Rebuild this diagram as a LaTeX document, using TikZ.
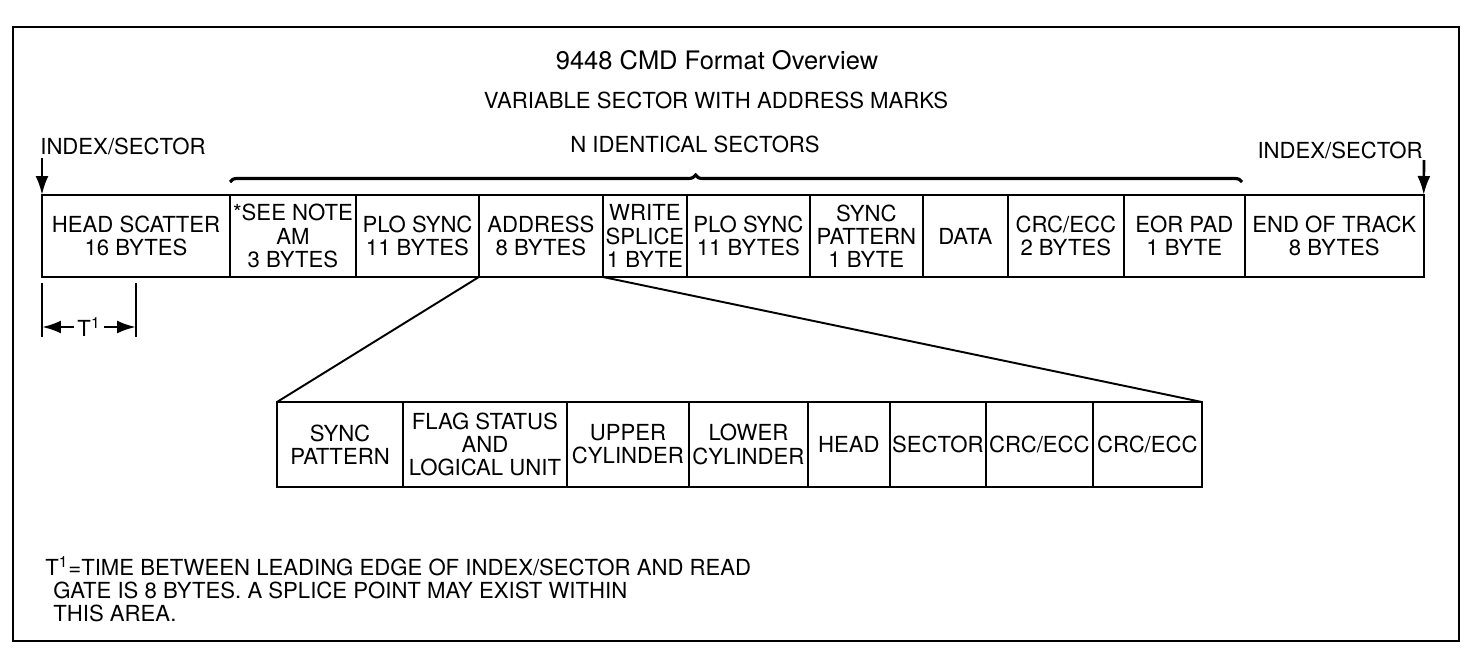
\documentclass[tikz,border=0pt]{standalone}
\usepackage{fontspec}
\setmainfont{TeX Gyre Heros}
\usetikzlibrary{positioning, arrows.meta, decorations.pathreplacing}

\tikzset{
  txt/.style={inner sep=0pt, font=\fontsize{12.6}{13.2}\selectfont},
  cell/.style={draw, line width=1.1pt, inner sep=0pt, outer sep=0pt, align=center,
    minimum height=1.64cm, font=\fontsize{12.6}{13.2}\selectfont},
  subcell/.style={cell, minimum height=1.70cm},
  fatarrow/.style={line width=1.5pt, -{Latex[length=0.38cm, width=0.26cm]}},
}

\begin{document}
\begin{tikzpicture}[x=0.02cm, y=-0.02cm]
        \useasboundingbox (0,0) rectangle (1469,653);
        \draw[line width=1.1pt] (13,27) rectangle (1459,641);

        % headings
        \node[font=\fontsize{14.5}{17}\selectfont] (title) at (717,60) {9448 CMD Format Overview};
        \node[txt] (subtitle) at (716,100) {VARIABLE SECTOR WITH ADDRESS MARKS};
        \node[txt] (nsectors) at (695,144) {N IDENTICAL SECTORS};

        % track layout
        \node[cell, minimum width=3.76cm, anchor=north west] (hs) at (42,195) {HEAD SCATTER\\16 BYTES};
        \node[cell, minimum width=2.52cm, right=0pt of hs] (am) {*SEE NOTE\\AM\\3 BYTES};
        \node[cell, minimum width=2.46cm, right=0pt of am] (plo1) {PLO SYNC\\11 BYTES};
        \node[cell, minimum width=2.48cm, right=0pt of plo1] (addr) {ADDRESS\\8 BYTES};
        \node[cell, minimum width=1.68cm, right=0pt of addr] (ws) {WRITE\\SPLICE\\1 BYTE};
        \node[cell, minimum width=2.46cm, right=0pt of ws] (plo2) {PLO SYNC\\11 BYTES};
        \node[cell, minimum width=2.26cm, right=0pt of plo2] (syncpat) {SYNC\\PATTERN\\1 BYTE};
        \node[cell, minimum width=1.70cm, right=0pt of syncpat] (data) {DATA};
        \node[cell, minimum width=2.32cm, right=0pt of data] (crc) {CRC/ECC\\2 BYTES};
        \node[cell, minimum width=2.42cm, right=0pt of crc] (eor) {EOR PAD\\1 BYTE};
        \node[cell, minimum width=3.58cm, right=0pt of eor] (eot) {END OF TRACK\\8 BYTES};

        % N identical sectors
        \coordinate (bl) at (230,182);
        \coordinate (br) at (1242,182);
        \draw[line width=1.8pt, decorate, decoration={brace, amplitude=0.14cm, aspect=0.46}] (bl) -- (br);

        % index marks
        \node[txt, anchor=west] (idxl) at (40,146) {INDEX/SECTOR};
        \coordinate (idxlt) at (42,158);
        \draw[fatarrow] (idxlt) -- (hs.north west);
        \node[txt, anchor=east] (idxr) at (1423,150) {INDEX/SECTOR};
        \coordinate (idxrt) at (1424,160);
        \draw[fatarrow] (idxrt) -- (eot.north east);

        % T1
        \coordinate (ta1) at (42,283);
        \coordinate (ta2) at (42,337);
        \coordinate (tb1) at (136,283);
        \coordinate (tb2) at (136,337);
        \draw[line width=1.1pt] (ta1) -- (ta2);
        \draw[line width=1.1pt] (tb1) -- (tb2);
        \node[txt, inner sep=2pt] (tlab) at (89,327) {T\textsuperscript{1}};
        \coordinate (tal) at (42,327);
        \coordinate (tbr) at (136,327);
        \draw[fatarrow] (tlab.west) -- (tal);
        \draw[fatarrow] (tlab.east) -- (tbr);

        % address field
        \node[subcell, minimum width=2.52cm, anchor=north west] (sp) at (277,402) {SYNC\\PATTERN};
        \node[subcell, minimum width=3.28cm, right=0pt of sp] (flag) {FLAG STATUS\\AND\\LOGICAL UNIT};
        \node[subcell, minimum width=2.44cm, right=0pt of flag] (ucyl) {UPPER\\CYLINDER};
        \node[subcell, minimum width=2.38cm, right=0pt of ucyl] (lcyl) {LOWER\\CYLINDER};
        \node[subcell, minimum width=1.64cm, right=0pt of lcyl] (head) {HEAD};
        \node[subcell, minimum width=1.92cm, right=0pt of head] (sec) {SECTOR};
        \node[subcell, minimum width=2.14cm, right=0pt of sec] (crc1) {CRC/ECC};
        \node[subcell, minimum width=2.18cm, right=0pt of crc1] (crc2) {CRC/ECC};

        \draw[line width=1.1pt] (addr.south west) -- (sp.north west);
        \draw[line width=1.1pt] (addr.south east) -- (crc2.north east);

        % note
        \node[txt, anchor=north west, align=left] (note) at (45,556)
          {T\textsuperscript{1}=TIME BETWEEN LEADING EDGE OF INDEX/SECTOR AND READ\\
           \hspace*{0.16cm}GATE IS 8 BYTES. A SPLICE POINT MAY EXIST WITHIN\\
           \hspace*{0.16cm}THIS AREA.};

    \end{tikzpicture}
\end{document}
